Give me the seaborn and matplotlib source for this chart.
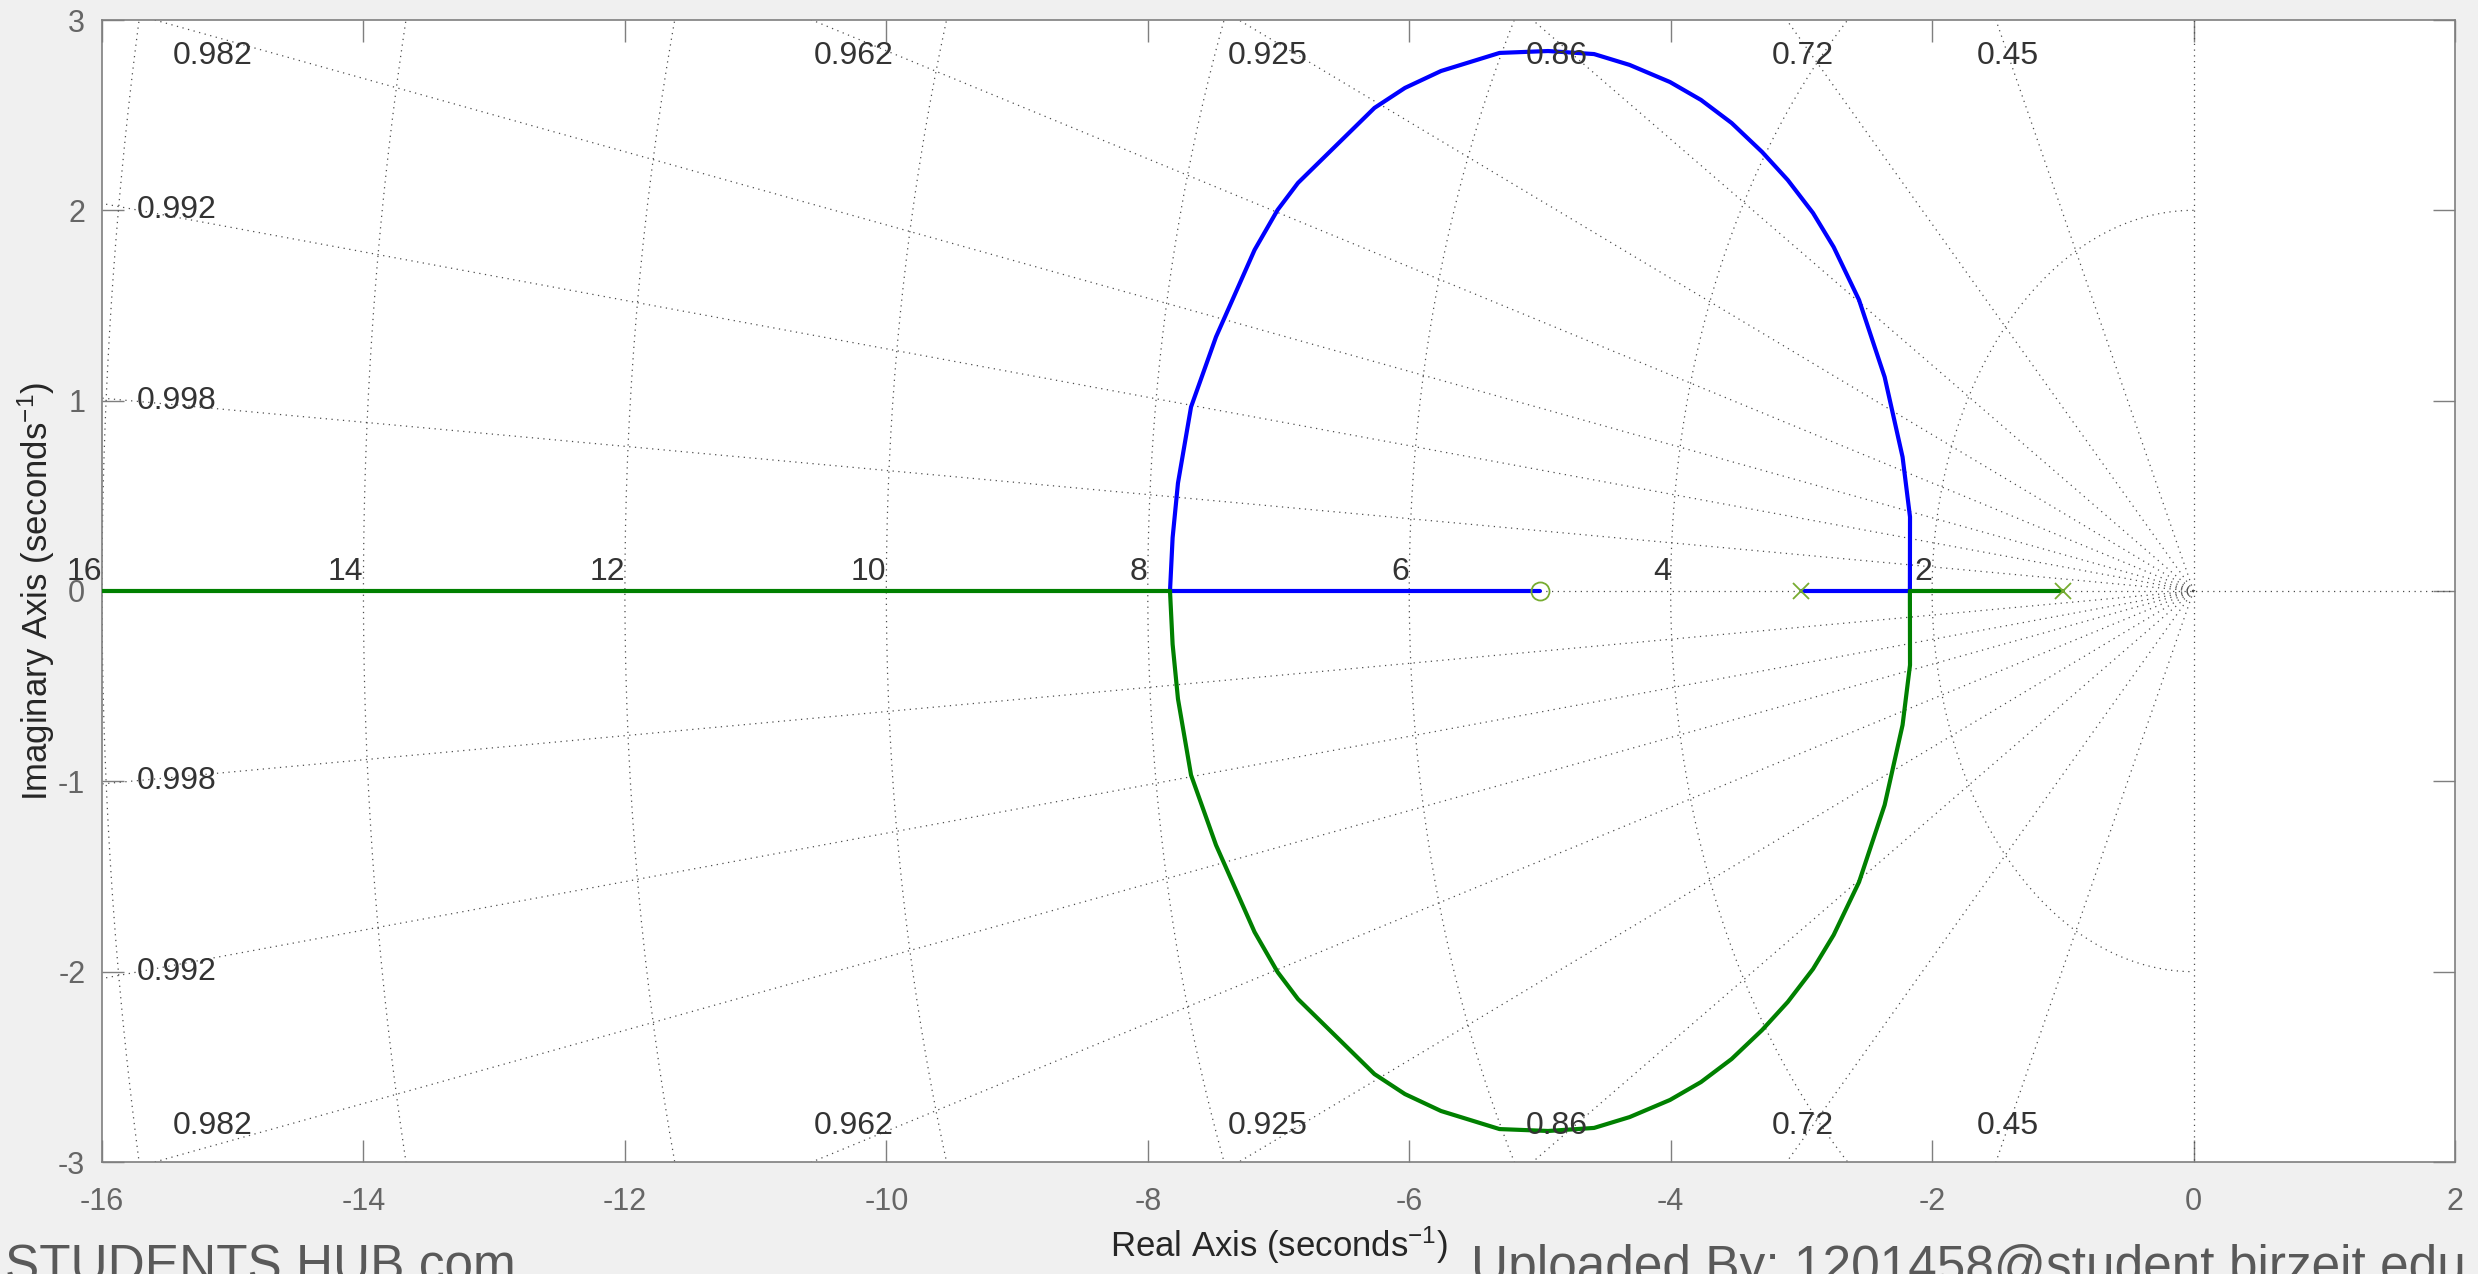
import numpy as np
import matplotlib
matplotlib.use("Agg")
import matplotlib.pyplot as plt
import seaborn as sns

# --- data (root locus, MATLAB style) ---
poles_re = [-3.0, -1.0]
zeros_re = [-5.0]

# branch 1 (blue): pole -3 -> breakaway -> upper arc -> break-in -> zero -5
blue_re = [-3.0, -2.17, -2.169, -2.226, -2.363, -2.559, -2.753, -2.911, -3.104,
           -3.301, -3.534, -3.768, -4.005, -4.314, -4.586, -4.938, -5.309,
           -5.757, -6.033, -6.266, -6.851, -7.007, -7.183, -7.478, -7.669,
           -7.769, -7.81, -7.83, -5.0]
blue_im = [0.0, 0.0, 0.389, 0.704, 1.124, 1.529, 1.807, 1.986, 2.159,
           2.307, 2.459, 2.580, 2.674, 2.764, 2.821, 2.837, 2.827,
           2.732, 2.643, 2.538, 2.144, 2.002, 1.792, 1.335, 0.967,
           0.567, 0.28, 0.0, 0.0]

# branch 2 (green): pole -1 -> breakaway -> lower arc -> break-in -> -inf
green_re = [-1.0, -2.17, -2.169, -2.226, -2.363, -2.559, -2.753, -2.911, -3.104,
            -3.301, -3.534, -3.768, -4.005, -4.314, -4.586, -4.938, -5.309,
            -5.757, -6.033, -6.266, -6.851, -7.007, -7.183, -7.478, -7.669,
            -7.769, -7.81, -7.83, -16.0]
green_im = [0.0, 0.0, -0.389, -0.704, -1.124, -1.529, -1.807, -1.986, -2.159,
            -2.307, -2.459, -2.580, -2.674, -2.764, -2.821, -2.837, -2.827,
            -2.732, -2.643, -2.538, -2.144, -2.002, -1.792, -1.335, -0.967,
            -0.567, -0.28, 0.0, 0.0]

# sgrid values
zeta_vals = [0.45, 0.72, 0.86, 0.925, 0.962, 0.982, 0.992, 0.998]
wn_vals = [2, 4, 6, 8, 10, 12, 14, 16]

# damping labels
zeta_top_labels = ["0.982", "0.962", "0.925", "0.86", "0.72", "0.45"]
zeta_top_x = [-15.15, -10.25, -7.08, -4.87, -2.99, -1.42]
zeta_side_labels = ["0.992", "0.998", "0.998", "0.992"]
zeta_side_y = [2.0, 1.0, -1.0, -2.0]
wn_labels = ["16", "14", "12", "10", "8", "6", "4", "2"]

x_ticks = list(range(-16, 3, 2))
y_ticks = list(range(-3, 4))

# --- style ---
sns.set_theme(style="white")
plt.rcParams["font.family"] = ["Liberation Sans", "DejaVu Sans"]
plt.rcParams["mathtext.fontset"] = "custom"
plt.rcParams["mathtext.rm"] = "Liberation Sans"
plt.rcParams["mathtext.it"] = "Liberation Sans"
plt.rcParams["axes.unicode_minus"] = False
plt.rcParams["xtick.direction"] = "in"
plt.rcParams["ytick.direction"] = "in"
plt.rcParams["xtick.major.size"] = 16
plt.rcParams["ytick.major.size"] = 16
plt.rcParams["xtick.major.pad"] = 18
plt.rcParams["ytick.major.pad"] = 12

fig = plt.figure(figsize=(24.78, 12.74), dpi=100, facecolor="#f0f0f0")
ax = fig.add_axes([102 / 2478, 1 - 1162 / 1274, (2455 - 102) / 2478, (1162 - 20) / 1274])
ax.set_facecolor("white")

grid_kw = dict(color="#4d4d4d", lw=0.9, ls=(0, (1, 3.6)), zorder=1)

# radial damping lines
for z in zeta_vals:
    ang = np.arccos(z)
    r = 30
    ax.plot([0, -r * np.cos(ang)], [0, r * np.sin(ang)], **grid_kw)
    ax.plot([0, -r * np.cos(ang)], [0, -r * np.sin(ang)], **grid_kw)
ax.plot([-30, 30], [0, 0], **grid_kw)
ax.plot([0, 0], [-30, 30], **grid_kw)

# natural frequency half circles
th = np.linspace(np.pi / 2, 3 * np.pi / 2, 400)
for wn in wn_vals:
    ax.plot(wn * np.cos(th), wn * np.sin(th), **grid_kw)

# locus branches
sns.lineplot(x=blue_re, y=blue_im, sort=False, estimator=None, color="#0000ff",
             lw=3.0, ax=ax, zorder=3)
sns.lineplot(x=green_re, y=green_im, sort=False, estimator=None, color="#008000",
             lw=3.0, ax=ax, zorder=3)

# poles and zeros
ax.plot(poles_re, [0] * len(poles_re), ls="none", marker="x", ms=11, mew=1.3,
        color="#77ac30", zorder=4)
ax.plot(zeros_re, [0] * len(zeros_re), ls="none", marker="o", ms=13, mew=1.3,
        mfc="none", mec="#77ac30", zorder=4)

# grid labels
lab_kw = dict(fontsize=23, color="#333333", zorder=5)
for t, x in zip(zeta_top_labels, zeta_top_x):
    ax.text(x, 2.81, t, ha="center", va="center", **lab_kw)
    ax.text(x, -2.81, t, ha="center", va="center", **lab_kw)
for t, y in zip(zeta_side_labels, zeta_side_y):
    ax.text(-15.43, y, t, ha="center", va="center", **lab_kw)
for t, wn in zip(wn_labels, wn_vals[::-1]):
    ax.text(-wn, 0.06, t, ha="right", va="baseline", clip_on=False, **lab_kw)

ax.set_xlim(-16, 2)
ax.set_ylim(-3, 3)
ax.set_xticks(x_ticks)
ax.set_yticks(y_ticks)
ax.tick_params(width=1.0, color="#7f7f7f", labelsize=22, labelcolor="#666666",
               top=True, right=True, bottom=True, left=True)
for s in ax.spines.values():
    s.set_color("#7f7f7f")
    s.set_linewidth(1.2)

ax.set_xlabel("Real Axis (seconds$^{-1}$)", fontsize=25, color="#262626")
ax.set_ylabel("Imaginary Axis (seconds$^{-1}$)", fontsize=25, color="#262626")
ax.xaxis.set_label_coords(0.5, -0.055)
ax.yaxis.set_label_coords(-0.019, 0.5)

# watermarks
fig.text(5 / 2478, -0.006, "STUDENTS HUB.com", fontsize=37, color="#595959",
         ha="left", va="baseline")
fig.text(1471 / 2478, -0.006, "Uploaded By: 1201458@student.birzeit.edu",
         fontsize=37, color="#595959", ha="left", va="baseline")

fig.savefig("out.png", dpi=100, facecolor=fig.get_facecolor())
